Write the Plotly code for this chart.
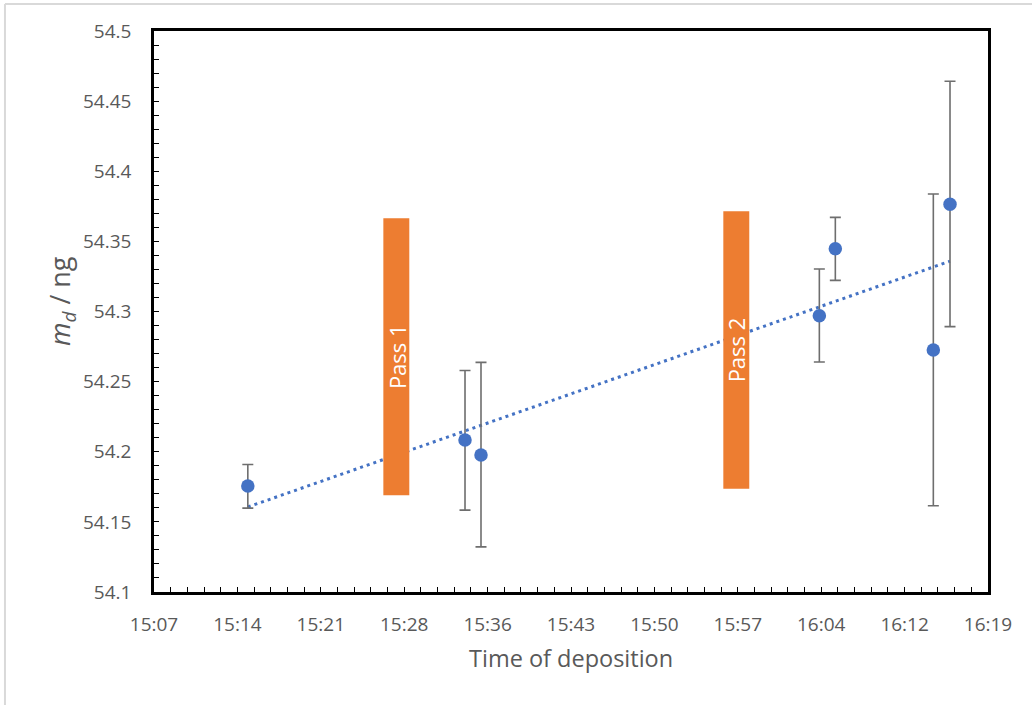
import numpy as np
import plotly.graph_objects as go

# ---- data (time in minutes after midnight) ----
time_min = [915.3, 934.05, 935.43, 964.64, 966.02, 974.48, 975.92]
mass_ng = [54.1756, 54.2084, 54.1977, 54.2970, 54.3448, 54.2725, 54.3764]
err_plus = [0.0153, 0.0495, 0.0660, 0.0333, 0.0223, 0.1113, 0.0878]
err_minus = [0.0158, 0.0500, 0.0655, 0.0330, 0.0226, 0.1110, 0.0872]

tick_vals = [907.2, 914.4, 921.6, 928.8, 936.0, 943.2, 950.4, 957.6, 964.8, 972.0, 979.2]
tick_text = ["15:07", "15:14", "15:21", "15:28", "15:36", "15:43", "15:50",
             "15:57", "16:04", "16:12", "16:19"]

pass_labels = ["Pass 1", "Pass 2"]
pass_t0 = [927.0, 956.35]
pass_t1 = [929.24, 958.59]
pass_m0 = [54.169, 54.1736]
pass_m1 = [54.3664, 54.3714]

BLUE = "#4472C4"
ORANGE = "#ED7D31"
GREY_TXT = "#595959"
FONT = "Open Sans"

fig = go.Figure()

# linear trendline fitted to the data
slope, icpt = np.polyfit(time_min, mass_ng, 1)
tx = np.array([min(time_min), max(time_min)])
fig.add_trace(go.Scatter(
    x=tx, y=slope * tx + icpt, mode="lines",
    line=dict(color=BLUE, width=3, dash="3px,4px"),
    hoverinfo="skip", showlegend=False))

fig.add_trace(go.Scatter(
    x=time_min, y=mass_ng, mode="markers",
    marker=dict(color=BLUE, size=13.5),
    error_y=dict(type="data", symmetric=False, array=err_plus, arrayminus=err_minus,
                 color="#6E6E6E", thickness=1.6, width=5.5),
    showlegend=False))

# pass markers (orange bars with labels)
for lab, a, b, lo, hi in zip(pass_labels, pass_t0, pass_t1, pass_m0, pass_m1):
    fig.add_shape(type="rect", xref="x", yref="y", x0=a, x1=b, y0=lo, y1=hi,
                  fillcolor=ORANGE, line=dict(width=0), layer="above")
    fig.add_annotation(x=(a + b) / 2, y=(lo + hi) / 2, xref="x", yref="y",
                       text=lab, textangle=-90, showarrow=False,
                       xanchor="center", yanchor="middle",
                       font=dict(family=FONT, size=22, color="white"))

# axis titles
fig.add_annotation(x=-0.110, y=0.519, xref="paper", yref="paper",
                   text="<i>m</i><sub><i>d</i></sub> / ng", textangle=-90,
                   xanchor="center", yanchor="middle",
                   showarrow=False, font=dict(family=FONT, size=27, color=GREY_TXT))
fig.add_annotation(x=0.5, y=-0.1176, xref="paper", yref="paper",
                   text="Time of deposition", showarrow=False,
                   xanchor="center", yanchor="middle",
                   font=dict(family=FONT, size=23.5, color=GREY_TXT))

# outer light border (top and left visible)
fig.add_shape(type="line", xref="paper", yref="paper", x0=-0.1787, x1=1.06,
              y0=1.0481, y1=1.0481, line=dict(color="#D9D9D9", width=2))
fig.add_shape(type="line", xref="paper", yref="paper", x0=-0.1787, x1=-0.1787,
              y0=1.0481, y1=-0.21, line=dict(color="#D9D9D9", width=2))

fig.update_layout(
    width=1032, height=705,
    margin=dict(l=154, r=44, t=31, b=113),
    paper_bgcolor="white", plot_bgcolor="white",
    font=dict(family=FONT, size=19, color=GREY_TXT),
    xaxis=dict(range=[907.2, 979.2], tickvals=tick_vals, ticktext=tick_text,
               showgrid=False, zeroline=False, automargin=False,
               showline=True, linecolor="black", linewidth=2.5, mirror=True,
               ticks="inside", ticklen=5, tickwidth=1.2, tickcolor="black",
               ticklabelstandoff=13,
               minor=dict(ticks="inside", ticklen=5, tickwidth=1.2, tickcolor="black",
                          tick0=907.2, dtick=1.44, showgrid=False),
               tickfont=dict(family=FONT, size=19, color=GREY_TXT)),
    yaxis=dict(range=[54.1, 54.5], dtick=0.05, tick0=54.1,
               showgrid=False, zeroline=False, automargin=False,
               showline=True, linecolor="black", linewidth=2.5, mirror=True,
               ticks="inside", ticklen=5, tickwidth=1.2, tickcolor="black",
               ticklabelstandoff=16,
               minor=dict(ticks="inside", ticklen=5, tickwidth=1.2, tickcolor="black",
                          tick0=54.1, dtick=0.01, showgrid=False),
               tickfont=dict(family=FONT, size=19, color=GREY_TXT)),
)

fig.write_html("out.html", config={"displayModeBar": False},
               post_script="document.body.style.margin='0';")
